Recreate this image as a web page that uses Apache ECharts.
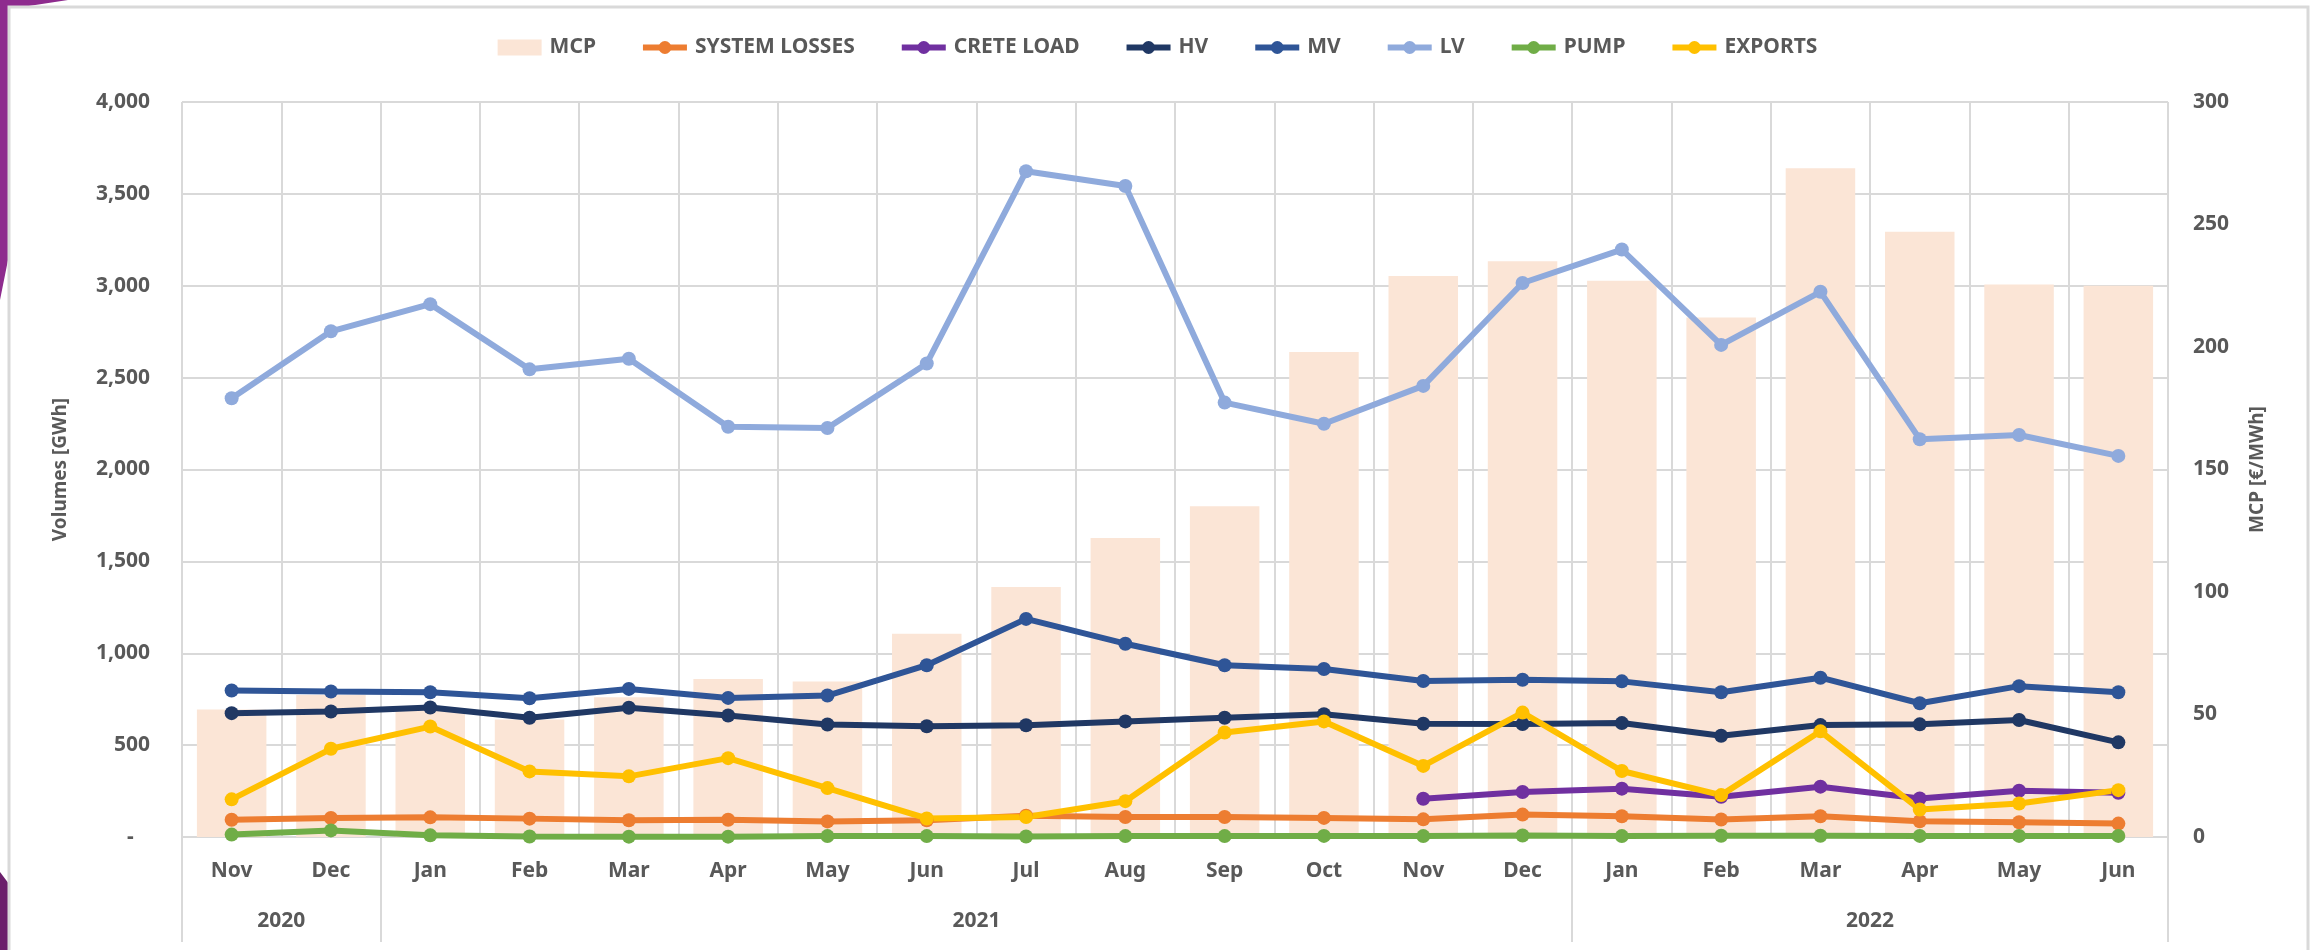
<!DOCTYPE html>
<html>
<head>
<meta charset="utf-8">
<script src="https://cdn.jsdelivr.net/npm/echarts@6/dist/echarts.min.js"></script>
<style>
  html, body { margin: 0; padding: 0; background: #fff; }
  #chart { width: 2315px; height: 950px; }
</style>
</head>
<body>
<div id="chart"></div>
<script>
// months Nov 2020 .. Jun 2022
const months = ['Nov', 'Dec', 'Jan', 'Feb', 'Mar', 'Apr', 'May', 'Jun', 'Jul', 'Aug', 'Sep', 'Oct',
  'Nov', 'Dec', 'Jan', 'Feb', 'Mar', 'Apr', 'May', 'Jun'];
const monthYears = ['2020', '2020', '2021', '2021', '2021', '2021', '2021', '2021', '2021', '2021', '2021', '2021',
  '2021', '2021', '2022', '2022', '2022', '2022', '2022', '2022'];

// MCP [€/MWh], right axis
const mcp = [52, 58, 52, 48, 57, 64.5, 63.5, 83, 102, 122, 135, 198, 229, 235, 227, 212, 273, 247, 225.5, 225];

// volumes [GWh], left axis
const systemLosses = [94, 103, 107, 100, 91, 94, 85, 91, 116, 109, 109, 104, 96, 122, 113, 95, 113, 86, 80, 73];
const creteLoad = [null, null, null, null, null, null, null, null, null, null, null, null,
  208, 245, 263, 219, 274, 210, 252, 241];
const hv = [674, 683, 705, 649, 703, 661, 612, 603, 608, 629, 649, 668, 616, 615, 620, 551, 609, 613, 637, 515];
const mv = [797, 792, 788, 755, 806, 757, 770, 935, 1187, 1052, 935, 914, 849, 856, 847, 788, 867, 728, 821, 788];
const lv = [2388, 2752, 2900, 2545, 2603, 2233, 2226, 2577, 3623, 3543, 2364, 2249, 2455, 3015, 3197, 2678, 2967, 2165, 2188, 2074];
const pump = [13, 36, 9, 3, 2, 2, 5, 5, 3, 5, 5, 6, 5, 8, 5, 7, 7, 6, 6, 6];
const exportsVol = [205, 480, 601, 357, 330, 429, 266, 101, 109, 195, 569, 629, 387, 677, 359, 228, 575, 150, 182, 255];

const textColor = '#595959';
const gridColor = '#d9d9d9';
const font = '"Noto Sans", "DejaVu Sans", sans-serif';

// year groups under the month labels
const yearBounds = [0];
const yearNames = [monthYears[0]];
monthYears.forEach((y, i) => {
  if (i > 0 && y !== monthYears[i - 1]) {
    yearBounds.push(i);
    yearNames.push(y);
  }
});
yearBounds.push(months.length);
const yearCenters = yearNames.map((_, i) => (yearBounds[i] + yearBounds[i + 1]) / 2);

const lineSeries = (name, data, color) => ({
  name: name,
  type: 'line',
  yAxisIndex: 0,
  data: data,
  symbol: 'circle',
  symbolSize: 14,
  showAllSymbol: true,
  lineStyle: { width: 6, color: color },
  itemStyle: { color: color },
  emphasis: { disabled: true }
});

const chart = echarts.init(document.getElementById('chart'));

chart.setOption({
  animation: false,
  backgroundColor: '#fff',
  graphic: [
    {
      type: 'polygon', z: -20,
      shape: { points: [[0, 0], [68, 0], [9, 9], [9, 255], [0, 300]] },
      style: { fill: '#8e2b8e' }
    },
    {
      type: 'polygon', z: -20,
      shape: { points: [[0, 872], [9, 884], [9, 950], [0, 950]] },
      style: { fill: '#6b1f6b' }
    },
    {
      type: 'rect', z: -10,
      shape: { x: 9, y: 7, width: 2299, height: 960 },
      style: { fill: '#fff', stroke: gridColor, lineWidth: 3 }
    }
  ],
  legend: {
    top: 32,
    left: 'center',
    itemWidth: 44,
    itemHeight: 16,
    itemGap: 44,
    lineStyle: { width: 6 },
    textStyle: { color: textColor, fontSize: 21, fontWeight: 'bold', fontFamily: font, padding: [0, 0, 0, 3] },
    data: [
      { name: 'MCP', icon: 'rect' },
      'SYSTEM LOSSES', 'CRETE LOAD', 'HV', 'MV', 'LV', 'PUMP', 'EXPORTS'
    ]
  },
  grid: {
    left: 182,
    right: 147,
    top: 102,
    bottom: 113
  },
  xAxis: [
    {
      type: 'category',
      data: months,
      boundaryGap: true,
      axisLine: { show: true, lineStyle: { color: gridColor, width: 2 } },
      axisTick: { show: false },
      splitLine: { show: true, lineStyle: { color: gridColor, width: 2 } },
      axisLabel: {
        interval: 0,
        margin: 24,
        color: textColor,
        fontSize: 21,
        fontWeight: 'bold',
        fontFamily: font
      }
    },
    {
      type: 'value',
      position: 'bottom',
      min: 0,
      max: months.length,
      axisLine: { show: false },
      splitLine: { show: false },
      axisTick: {
        show: true,
        customValues: yearBounds,
        length: 105,
        lineStyle: { color: gridColor, width: 2 }
      },
      axisLabel: {
        customValues: yearCenters,
        margin: 74,
        color: textColor,
        fontSize: 21,
        fontWeight: 'bold',
        fontFamily: font,
        formatter: (v) => {
          const idx = yearCenters.indexOf(v);
          return idx >= 0 ? yearNames[idx] : '';
        }
      }
    }
  ],
  yAxis: [
    {
      type: 'value',
      min: 0,
      max: 4000,
      interval: 500,
      name: 'Volumes [GWh]',
      nameLocation: 'middle',
      nameRotate: 90,
      nameGap: 112,
      nameTextStyle: { color: textColor, fontSize: 19, fontWeight: 'bold', fontFamily: font },
      axisLine: { show: false },
      axisTick: { show: false },
      splitLine: { show: true, lineStyle: { color: gridColor, width: 2 } },
      axisLabel: {
        margin: 32,
        color: textColor,
        fontSize: 21,
        fontWeight: 'bold',
        fontFamily: font,
        formatter: (v) => v === 0 ? '-\u00a0\u00a0\u00a0' : v.toLocaleString('en-US')
      }
    },
    {
      type: 'value',
      min: 0,
      max: 300,
      interval: 50,
      position: 'right',
      name: 'MCP [€/MWh]',
      nameLocation: 'middle',
      nameRotate: 90,
      nameGap: 80,
      nameTextStyle: { color: textColor, fontSize: 19, fontWeight: 'bold', fontFamily: font },
      axisLine: { show: false },
      axisTick: { show: false },
      splitLine: { show: false },
      axisLabel: {
        margin: 25,
        color: textColor,
        fontSize: 21,
        fontWeight: 'bold',
        fontFamily: font
      }
    }
  ],
  series: [
    {
      name: 'MCP',
      type: 'bar',
      yAxisIndex: 1,
      data: mcp,
      barWidth: '70%',
      itemStyle: { color: '#fbe5d6' },
      emphasis: { disabled: true },
      z: 1
    },
    lineSeries('SYSTEM LOSSES', systemLosses, '#ed7d31'),
    lineSeries('CRETE LOAD', creteLoad, '#7030a0'),
    lineSeries('HV', hv, '#203864'),
    lineSeries('MV', mv, '#2f5597'),
    lineSeries('LV', lv, '#8faadc'),
    lineSeries('PUMP', pump, '#70ad47'),
    lineSeries('EXPORTS', exportsVol, '#ffc000')
  ]
});
</script>
</body>
</html>
